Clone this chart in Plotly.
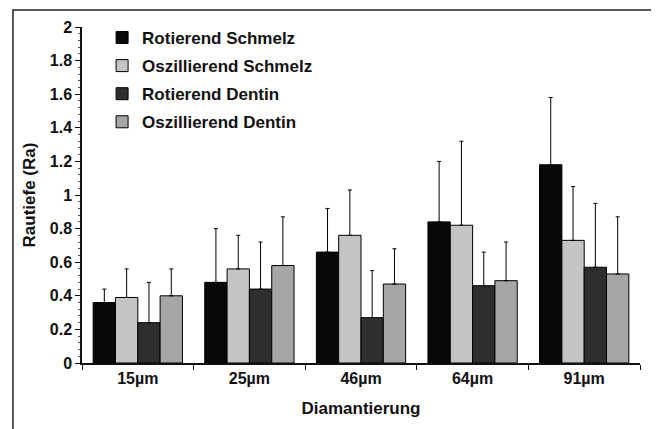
import plotly.graph_objects as go

categories = ["15µm", "25µm", "46µm", "64µm", "91µm"]
series_names = ["Rotierend Schmelz", "Oszillierend Schmelz", "Rotierend Dentin", "Oszillierend Dentin"]
rot_schmelz = [0.36, 0.48, 0.66, 0.84, 1.18]
rot_schmelz_sd = [0.08, 0.32, 0.26, 0.36, 0.40]
osz_schmelz = [0.39, 0.56, 0.76, 0.82, 0.73]
osz_schmelz_sd = [0.17, 0.20, 0.27, 0.50, 0.32]
rot_dentin = [0.24, 0.44, 0.27, 0.46, 0.57]
rot_dentin_sd = [0.24, 0.28, 0.28, 0.20, 0.38]
osz_dentin = [0.40, 0.58, 0.47, 0.49, 0.53]
osz_dentin_sd = [0.16, 0.29, 0.21, 0.23, 0.34]

values = [rot_schmelz, osz_schmelz, rot_dentin, osz_dentin]
sds = [rot_schmelz_sd, osz_schmelz_sd, rot_dentin_sd, osz_dentin_sd]
colors = ["#080808", "#c4c4c4", "#2e2e2e", "#a6a6a6"]

FONT = "Liberation Sans, Arial, Helvetica, sans-serif"

fig = go.Figure()
for i, (name, v, sd, c) in enumerate(zip(series_names, values, sds, colors)):
    fig.add_trace(go.Bar(
        x=categories, y=v, name=name, legendgroup=str(i),
        marker=dict(color=c, line=dict(color="#000000", width=1)),
        error_y=dict(type="data", symmetric=False, array=sd, arrayminus=[0] * len(sd),
                     color="#000000", thickness=1, width=2),
    ))

# page body has an 8px margin, so the figure is sized to fit the 659x429 window
fig.update_layout(
    width=651, height=421,
    margin=dict(l=74, r=19, t=19, b=66),
    paper_bgcolor="white", plot_bgcolor="white",
    barmode="group", bargap=0.2, bargroupgap=0,
    font=dict(family=FONT, size=16, color="#111111", weight="bold"),
    showlegend=True,
    legend=dict(x=0.036, y=1.021, xanchor="left", yanchor="top",
                font=dict(family=FONT, size=17, color="#111111", weight="bold"),
                tracegroupgap=3, bgcolor="rgba(0,0,0,0)"),
    xaxis=dict(type="category", range=[-0.5, 4.5], showline=True, linecolor="#111111", linewidth=1.5,
               ticks="outside", tickson="boundaries", ticklen=5, tickcolor="#111111",
               showgrid=False, zeroline=False, automargin=False,
               title=dict(text="Diamantierung", font=dict(family=FONT, size=17, weight="bold"), standoff=16),
               tickfont=dict(family=FONT, size=16, weight="bold")),
    yaxis=dict(range=[0, 2], dtick=0.2, showline=True, linecolor="#111111", linewidth=1.5,
               ticks="outside", ticklen=5, tickcolor="#111111", showgrid=False, zeroline=False,
               automargin=False,
               minor=dict(dtick=0.04, ticks="outside", ticklen=2, tickcolor="#555555"),
               title=dict(text="Rautiefe (Ra)", font=dict(family=FONT, size=17, weight="bold"), standoff=10),
               tickfont=dict(family=FONT, size=16, weight="bold")),
)

fig.add_shape(type="rect", xref="paper", yref="paper",
              x0=-0.1237, x1=1.027, y0=-0.3, y1=1.0506,
              line=dict(color="#222222", width=1.5), fillcolor="rgba(0,0,0,0)", layer="below")

fig.write_html("out.html")
